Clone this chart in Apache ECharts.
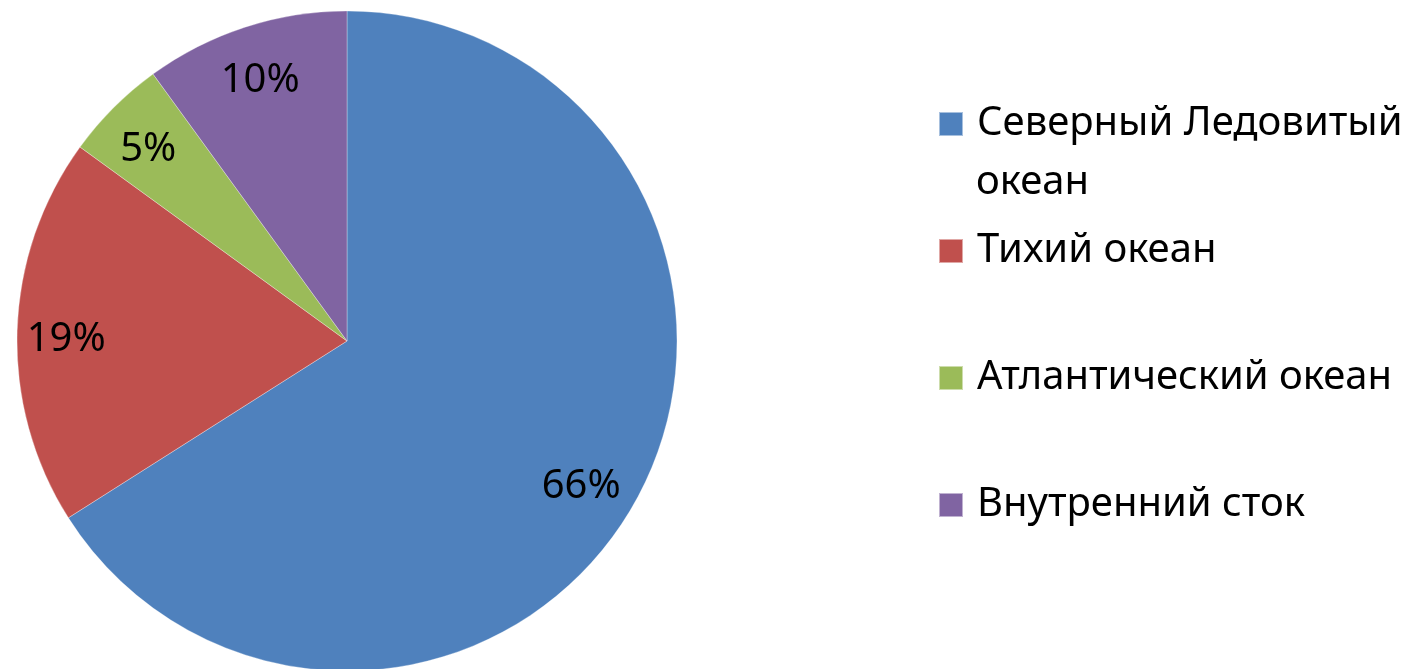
<!DOCTYPE html>
<html>
<head>
<meta charset="utf-8">
<script src="https://cdn.jsdelivr.net/npm/echarts@6/dist/echarts.min.js"></script>
<style>
  html, body { margin: 0; padding: 0; background: #fff; }
  #pieChart { width: 1416px; height: 669px; }
</style>
</head>
<body>
<div id="pieChart"></div>
<script>
// данные диаграммы
const categories = ['Северный Ледовитый океан', 'Тихий океан', 'Атлантический океан', 'Внутренний сток'];
const shares = [66, 19, 5, 10];
const colors = ['#4F81BD', '#C0504D', '#9BBB59', '#8064A2'];

const chart = echarts.init(document.getElementById('pieChart'));
const fontFamily = 'Noto Sans';
const pieData = categories.map((name, i) => ({ name: name, value: shares[i] }));

const option = {
  animation: false,
  color: colors,
  legend: {
    orient: 'vertical',
    left: 938,
    top: 99,
    padding: 0,
    itemWidth: 24,
    itemHeight: 24,
    itemGap: 77,
    icon: 'rect',
    selectedMode: false,
    data: categories,
    // первая подпись переносится на вторую строку отдельным текстом
    formatter: name => name === categories[0] ? 'Северный Ледовитый' : name,
    textStyle: {
      fontFamily: fontFamily,
      fontSize: 40,
      lineHeight: 50,
      color: '#000',
      padding: [0, 0, 0, 9]
    }
  },
  graphic: [
    {
      type: 'text',
      left: 976,
      top: 163,
      style: { text: 'океан', font: '40px "Noto Sans"', fill: '#000' }
    }
  ],
  series: [
    {
      // сами секторы
      type: 'pie',
      center: [347, 341],
      radius: 330,
      startAngle: 90,
      clockwise: true,
      label: { show: false },
      labelLine: { show: false },
      itemStyle: { borderColor: 'rgba(255,255,255,0.5)', borderWidth: 0.6 },
      emphasis: { disabled: true },
      data: pieData
    },
    {
      // прозрачное кольцо только для подписей (ближе к краю, как в Excel)
      type: 'pie',
      center: [347, 341],
      radius: [226, 330],
      startAngle: 90,
      clockwise: true,
      silent: true,
      itemStyle: { color: 'rgba(0,0,0,0)' },
      label: {
        show: true,
        position: 'inside',
        formatter: '{c}%',
        fontFamily: fontFamily,
        fontSize: 40,
        color: '#000'
      },
      labelLayout: params => params.dataIndex === 0 ? { dx: -12, dy: 10 } : { dy: 7 },
      labelLine: { show: false },
      emphasis: { disabled: true },
      data: pieData
    }
  ]
};
chart.setOption(option);
</script>
</body>
</html>
